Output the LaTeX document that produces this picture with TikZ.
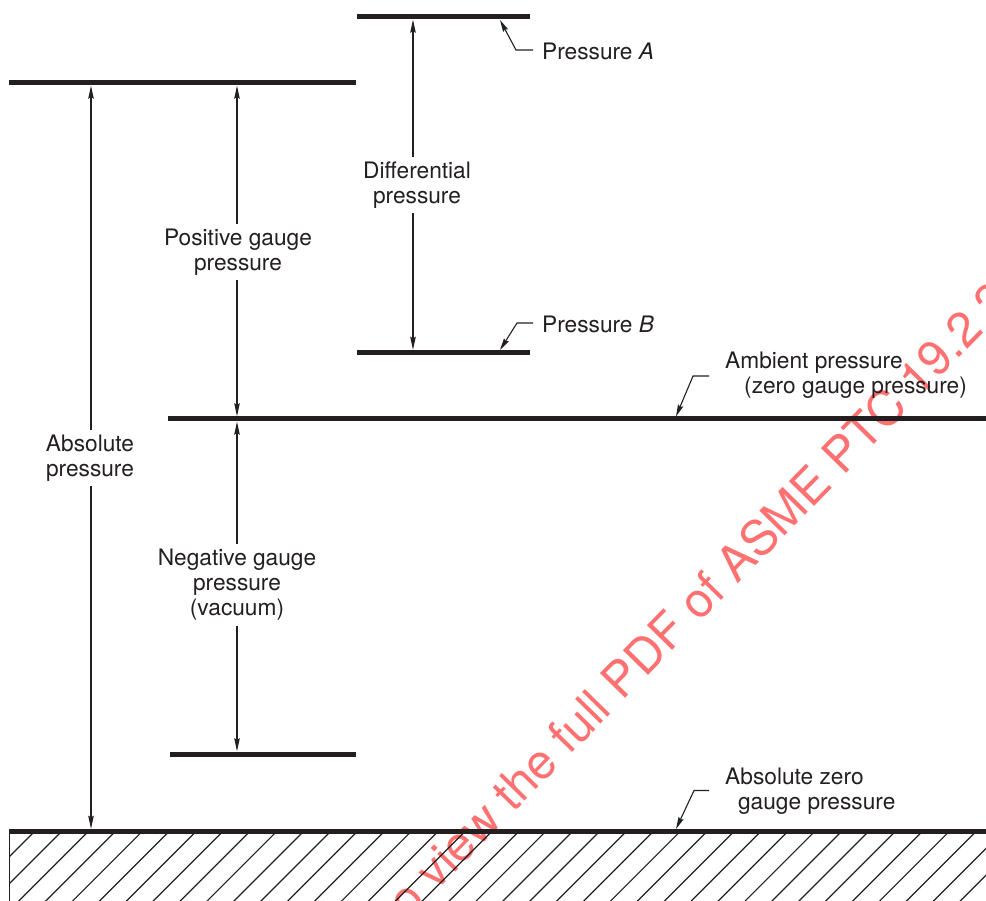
\documentclass[tikz,border=0pt]{standalone}
\usepackage{fontspec}
\setmainfont{TeX Gyre Heros}
\usetikzlibrary{arrows.meta}
\definecolor{ink}{HTML}{231F20}
\definecolor{wmred}{HTML}{FF7070}
\begin{document}
\begin{tikzpicture}[x=1pt,y=-1pt,
  bar/.style={rectangle, fill=ink, inner sep=0pt, minimum height=5pt},
  lbl/.style={text=ink, inner sep=5pt, font=\fontsize{22.7}{25}\selectfont, align=center},
  callout/.style={text=ink, inner sep=0pt, font=\fontsize{22.7}{25}\selectfont, align=left, anchor=west},
  dim/.style={draw=ink, line width=1.1pt, -{Stealth[length=13pt,width=5.5pt,inset=1.5pt]}},
  leader/.style={draw=ink, line width=1.1pt, -{Stealth[length=12pt,width=5.5pt,inset=1.5pt]}},
  hatchline/.style={draw=ink, line width=1.2pt},
  wmk/.style={text=wmred, inner sep=0pt, font=\fontsize{48.5}{48.5}\selectfont}]
\useasboundingbox (0,0) rectangle (986,901);
% watermark (beneath the drawing)
\begin{scope}
  \clip (0,0) rectangle (986,901);
  \node[wmk, rotate=45.6, anchor=base west] (wm) at (408,921) {o view the full PDF of ASME PTC 19.2 2};
\end{scope}
% pressure levels
\node[bar, minimum width=347pt] (top) at (182.5,83) {};
\node[bar, minimum width=173pt] (pa) at (443.5,17) {};
\node[bar, minimum width=173pt] (pb) at (443.5,352.5) {};
\node[bar, minimum width=818pt] (amb) at (577,419) {};
\node[bar, minimum width=186pt] (neg) at (263,754) {};
\node[bar, minimum width=977pt] (zero) at (497.5,831.5) {};
% hatching below absolute zero
\begin{scope}
  \clip (9,834) rectangle (986,901);
  \foreach \k in {0,...,38} {
    \draw[hatchline] (33+26.9*\k,833) -- ++(-80,80);
  }
\end{scope}
\draw[ink, line width=1.3pt] (zero.south west) ++(0.65,0) -- ++(0,72);
% dimension labels
\node[lbl] (abs) at (90,458) {Absolute\\pressure};
\node[lbl] (pos) at (238,252) {Positive gauge\\pressure};
\node[lbl] (negl) at (237,585) {Negative gauge\\pressure\\(vacuum)};
\node[lbl] (diff) at (417,185) {Differential\\pressure};
\coordinate (xa) at (91,0);
\coordinate (xp) at (237,0);
\coordinate (xd) at (413,0);
\draw[dim] (xa |- abs.north) -- (xa |- top.south);
\draw[dim] (xa |- abs.south) -- (xa |- zero.north);
\draw[dim] (xp |- pos.north) -- (xp |- top.south);
\draw[dim] (xp |- pos.south) -- (xp |- amb.north);
\draw[dim] (xp |- negl.north) -- (xp |- amb.south);
\draw[dim] (xp |- negl.south) -- (xp |- neg.north);
\draw[dim] (xd |- diff.north) -- (xd |- pa.south);
\draw[dim] (xd |- diff.south) -- (xd |- pb.north);
% callouts
\node[callout] (plA) at (542,51) {Pressure \textit{A}};
\node[callout] (plB) at (542,324) {Pressure \textit{B}};
\node[callout] (ambl) at (725,375) {Ambient pressure\\\hspace*{19pt}(zero gauge pressure)};
\node[callout] (zl) at (725,791.5) {Absolute zero\\\hspace*{13pt}gauge pressure};
\coordinate (tA) at (500,20);
\coordinate (tB) at (500,350);
\coordinate (tAmb) at (676,416.5);
\coordinate (tZ) at (676,829);
\draw[leader] (plA.west) ++(-9,-1) -- ++(-17,0) -- (tA);
\draw[leader] (plB.west) ++(-9,-1) -- ++(-16,0) -- (tB);
\draw[leader] (ambl.west) ++(-16,1) -- ++(-16,0) -- (tAmb);
\draw[leader] (zl.west) ++(-16,-1) -- ++(-15,0) -- (tZ);
\end{tikzpicture}
\end{document}
